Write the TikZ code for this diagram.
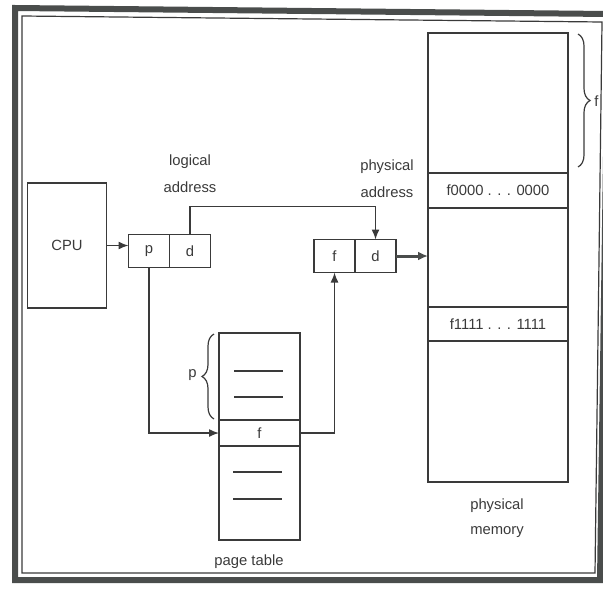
\documentclass[tikz,border=0pt]{standalone}
\usepackage{fontspec}
\setmainfont{Liberation Sans}
\usepackage{tikz}
\usetikzlibrary{arrows.meta, positioning, decorations.pathreplacing}
\definecolor{inkgray}{HTML}{3A3A3A}
\definecolor{framegray}{HTML}{4A4D4C}
\tikzstyle{cell}     = [rectangle, draw=inkgray, line width=0.6pt, outer sep=0pt,
                        inner sep=0pt, minimum width=20.5pt, minimum height=16.5pt,
                        text=inkgray, font=\fontsize{7.4}{8}\selectfont]
\tikzstyle{memblock} = [cell, minimum width=70pt]
\tikzstyle{ptblock}  = [cell, minimum width=40.5pt]
\tikzstyle{note}     = [align=center, inner sep=0pt, text=inkgray,
                        font=\fontsize{7.4}{13.5}\selectfont]
\tikzstyle{arrow}    = [line width=0.7pt, draw=inkgray,
                        -{Latex[length=5pt,width=4pt]}]
\tikzstyle{memarrow} = [line width=1.5pt, draw=framegray,
                        -{Latex[length=5pt,width=4.5pt]}]
\tikzstyle{sbrace}   = [draw=inkgray, line width=0.6pt,
                        decorate, decoration={brace, amplitude=6pt}]

\begin{document}
\begin{tikzpicture}[x=0.5pt, y=-0.5pt]
  \useasboundingbox (0,0) rectangle (603,594);

  % Frame
  \draw[framegray, line width=3pt] (15,8) -- (608,14) -- (600,580) -- (15,580) -- cycle;
  \draw[inkgray, line width=0.6pt] (22,16) -- (602,22) -- (595,573) -- (22,573) -- cycle;

  % CPU
  \node[cell, minimum width=39.5pt, minimum height=62.5pt] (cpu) at (67,245.5) {CPU};

  % Logical address
  \node[cell] (lp) at (149,251) {p};
  \node[cell, right=0pt of lp] (ld) {d};
  \node[note] (logical) at (190,174) {logical\\address};
  \draw[arrow] (cpu.east) -- (cpu.east -| lp.west);

  % Physical address
  \node[cell] (pf) at (334.5,256) {f};
  \node[cell, right=0pt of pf] (pd) {d};
  \node[note] (physical) at (387,179) {physical\\address};
  \draw[arrow] (ld.north) -- ++(0,-28) -| (pd.north);

  % Physical memory
  \node[memblock, minimum height=70pt] (memtop) at (498,103) {};
  \node[memblock, minimum height=17.5pt, below=0pt of memtop] (frame0)
        {f0000 . . . 0000};
  \node[memblock, minimum height=49.5pt, below=0pt of frame0] (memmid) {};
  \node[memblock, minimum height=17pt, below=0pt of memmid] (frame1)
        {f1111 . . . 1111};
  \node[memblock, minimum height=70.5pt, below=0pt of frame1] (membot) {};
  \node[note, font=\fontsize{7.4}{12.5}\selectfont] (memlabel) at (497,518)
        {physical\\memory};
  \draw[sbrace] (578,34) -- (578,167);
  \node[note, anchor=west] (flabel) at (594,101) {f};
  \draw[memarrow] (pd.east) -- (pd.east -| memmid.west);

  % Page table
  \node[ptblock, minimum height=43.5pt] (pttop) at (259.5,376.5) {};
  \node[ptblock, minimum height=13pt, below=0pt of pttop] (ptf) {f};
  \node[ptblock, minimum height=47pt, below=0pt of ptf] (ptbot) {};
  \draw[inkgray, line width=0.6pt] (234,371) -- (283,371) (234,397) -- (283,397)
                                   (233,472) -- (282,472) (233,499) -- (282,499);
  \draw[sbrace] (214,419) -- (214,334);
  \node[note, anchor=east] (plabel) at (197,375) {p};
  \node[note] (ptlabel) at (249,562) {page table};
  \draw[arrow] (lp.south) |- (ptf.west);
  \draw[arrow] (ptf.east) -| (pf.south);

\end{tikzpicture}
\end{document}
